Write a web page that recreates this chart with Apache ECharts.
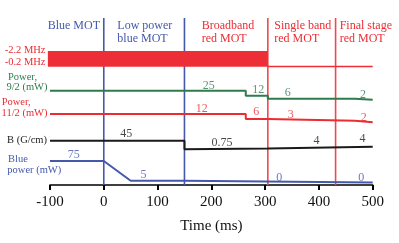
<!DOCTYPE html>
<html><head><meta charset="utf-8">
<script src="https://cdn.jsdelivr.net/npm/echarts@6/dist/echarts.min.js"></script>
<style>html,body{margin:0;padding:0;background:#fff}#c{width:399px;height:243px}</style>
</head><body><div id="c"></div>
<script>
// x-axis ticks (time, ms)
var timeTicks = [-100, 0, 100, 200, 300, 400, 500];
// phase boundaries (ms)
var blueBoundaries = [0, 150];
var redBoundaries = [305, 431];
// traces: [time, level] (level = arbitrary vertical offset of the diagram row)
var bandBroad = [[-104, 126.2], [305, 126.2]];
var bandSingle = [[305, 118.5], [500, 118.5]];
var green92 = [[-100, 94.3], [264, 89.3], [305, 86.3], [467, 85.3], [500, 85.3]];
var red112 = [[-100, 71], [264, 66], [305, 64.3], [467, 62.7], [500, 62.7]];
var bGrad = [[-100, 44.3], [150, 44.3], [150, 35.8], [305, 36.4], [500, 38.2]];
var bluePower = [[-100, 24], [0, 24], [50, 4.3], [150, 4.3], [150, 2.5], [500, 2.5]];
// value annotations: [time, level, text]
var greenVals = [[195, 99.5, '25'], [287, 95, '12'], [342, 92.3, '6'], [482, 90.5, '2']];
var redVals = [[182, 76, '12'], [283.4, 73.3, '6'], [347.7, 70, '3'], [483.3, 67.2, '2']];
var blackVals = [[41.7, 51.3, '45'], [219.8, 42.5, '0.75'], [395.5, 44.5, '4'], [481, 45.8, '4']];
var blueVals = [[-56, 30.2, '75'], [73.8, 10.5, '5'], [326.4, 7.5, '0'], [478.6, 7.5, '0']];
// phase titles
var phaseTitles = [
  {text: 'Blue MOT', x: 47.7, c: 'blue'},
  {text: 'Low power\nblue MOT', x: 117.3, c: 'blue'},
  {text: 'Broadband\nred MOT', x: 201.7, c: 'red'},
  {text: 'Single band\nred MOT', x: 274.3, c: 'red'},
  {text: 'Final stage\nred MOT', x: 339.7, c: 'red'}
];

var C = {red: '#ec2c33', band: '#ee2e36', green: '#2e7b4c', blue: '#4558ab', black: '#1a1a1a', vred: '#f0484e'};
var FONT = 'Liberation Serif';

var series = [];
function lineS(data, color, width, extra) {
  var s = {type: 'line', data: data, symbol: 'none', silent: true, animation: false,
    lineStyle: {color: color, width: width, cap: 'butt'}};
  for (var k in extra) s[k] = extra[k];
  series.push(s);
}
blueBoundaries.forEach(function (t) { lineS([[t, 0], [t, 167]], C.blue, 1.6, {}); });
redBoundaries.forEach(function (t) { lineS([[t, 0], [t, 167]], C.vred, 1.6, {}); });
lineS(bandBroad, C.band, 15.7, {clip: false});
lineS(bandSingle, C.band, 1.6, {});
lineS(green92, C.green, 2, {step: 'end'});
lineS(red112, C.red, 2, {step: 'end'});
lineS(bGrad, C.black, 2, {});
lineS(bluePower, C.blue, 2, {});

function valS(data, color) {
  series.push({type: 'scatter', data: data, symbolSize: 1, silent: true, animation: false,
    itemStyle: {color: 'rgba(0,0,0,0)'},
    label: {show: true, position: 'inside', formatter: function (p) { return p.data[2]; },
      color: color, fontFamily: FONT, fontSize: 12}});
}
valS(greenVals, C.green);
valS(redVals, C.red);
valS(blackVals, C.black);
valS(blueVals, C.blue);

var graphics = [];
function txt(s, x, y, color, size, align) {
  graphics.push({type: 'text', x: x, y: y, silent: true,
    style: {text: s, fill: color, fontFamily: FONT, fontSize: size, align: align || 'left', verticalAlign: 'middle'}});
}
phaseTitles.forEach(function (p) {
  var lines = p.text.split('\n');
  lines.forEach(function (l, i) { txt(l, p.x, 25.5 + i * 13.2, p.c === 'blue' ? C.blue : C.red, 12); });
});
txt('-2.2 MHz', 45.5, 50.5, C.red, 10.5, 'right');
txt('-0.2 MHz', 45.5, 62.5, C.red, 10.5, 'right');
txt('Power,', 8, 77, C.green, 10.5);
txt('9/2 (mW)', 47.5, 87.5, C.green, 10.5, 'right');
txt('Power,', 1.7, 102.5, C.red, 10.5);
txt('11/2 (mW)', 47.5, 112.8, C.red, 10.5, 'right');
txt('B (G/cm)', 47, 140, C.black, 10.5, 'right');
txt('Blue', 8, 159, C.blue, 10.5);
txt('power (mW)', 7.3, 170.5, C.blue, 10.5);

var chart = echarts.init(document.getElementById('c'), null, {renderer: 'canvas'});
chart.setOption({
  animation: false,
  backgroundColor: '#fff',
  grid: {left: 50, right: 26.3, top: 18, bottom: 58, containLabel: false},
  xAxis: {type: 'value', min: timeTicks[0], max: timeTicks[timeTicks.length - 1], interval: 100,
    name: 'Time (ms)', nameLocation: 'middle', nameGap: 34,
    nameTextStyle: {fontFamily: FONT, fontSize: 15, color: '#111'},
    axisLine: {lineStyle: {color: '#000', width: 1.6}},
    axisTick: {length: 5, lineStyle: {color: '#000', width: 2}},
    splitLine: {show: false},
    axisLabel: {fontFamily: FONT, fontSize: 15, color: '#111', margin: 10}},
  yAxis: {type: 'value', min: 0, max: 167, show: false},
  series: series,
  graphic: graphics
});
</script></body></html>
